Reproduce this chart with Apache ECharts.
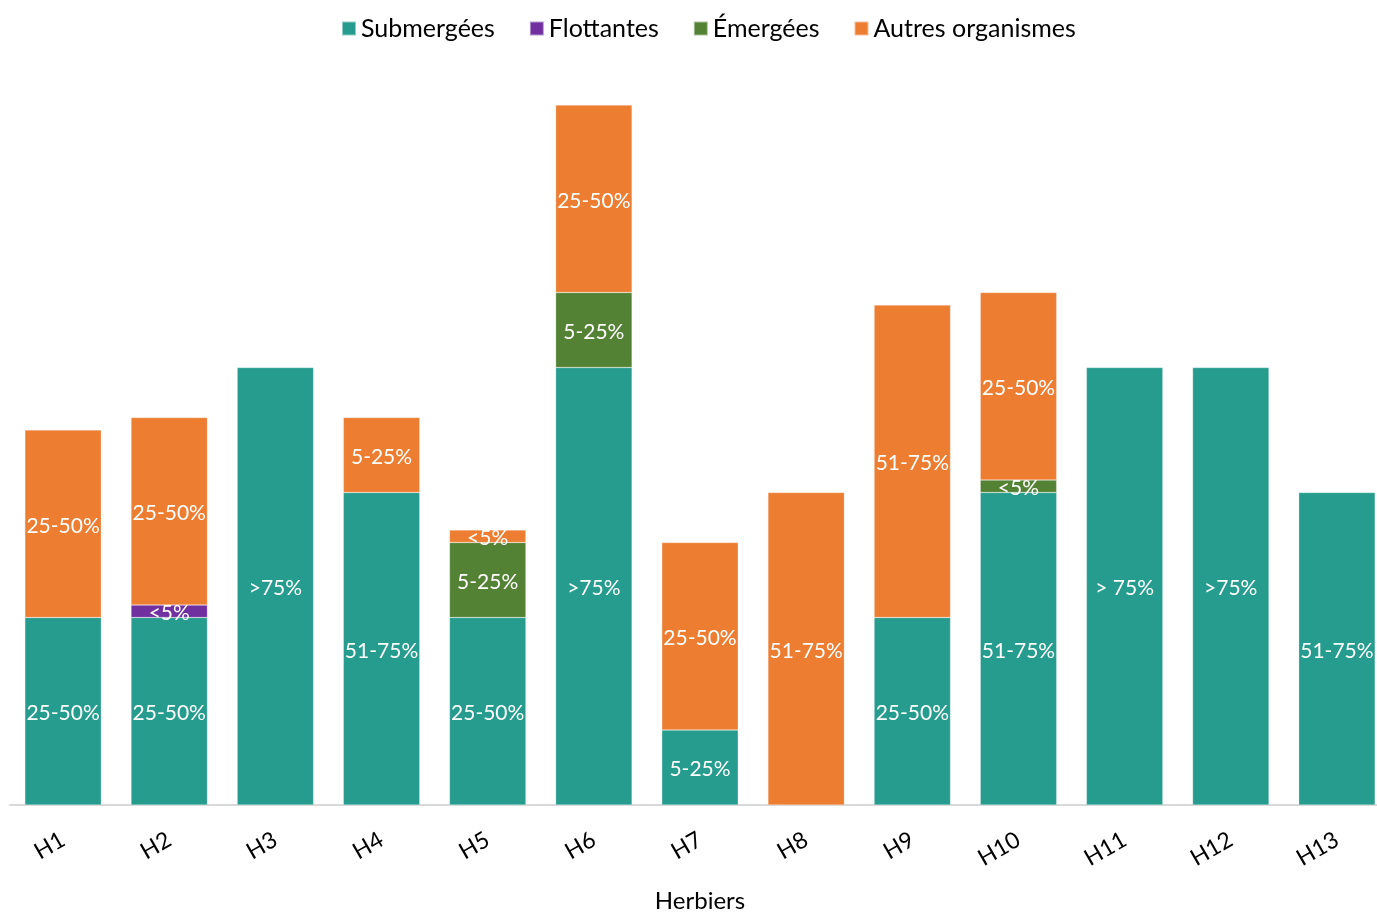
<!DOCTYPE html>
<html><head><meta charset="utf-8">
<script src="https://cdn.jsdelivr.net/npm/echarts@6/dist/echarts.min.js"></script>
<style>html,body{margin:0;padding:0;background:#fff}#c{width:1377px;height:914px}</style>
</head><body><div id="c"></div>
<script>
var categories = ['H1','H2','H3','H4','H5','H6','H7','H8','H9','H10','H11','H12','H13'];
// class midpoints: <5% = 2.5, 5-25% = 15, 25-50% = 37.5, 51-75% = 62.5, >75% = 87.5
var submergees = [37.5, 37.5, 87.5, 62.5, 37.5, 87.5, 15, null, 37.5, 62.5, 87.5, 87.5, 62.5];
var submergeesLabels = ['25-50%','25-50%','>75%','51-75%','25-50%','>75%','5-25%','','25-50%','51-75%','> 75%','>75%','51-75%'];
var flottantes = [null, 2.5, null, null, null, null, null, null, null, null, null, null, null];
var flottantesLabels = ['','<5%','','','','','','','','','','',''];
var emergees = [null, null, null, null, 15, 15, null, null, null, 2.5, null, null, null];
var emergeesLabels = ['','','','','5-25%','5-25%','','','','<5%','','',''];
var autres = [37.5, 37.5, null, 15, 2.5, 37.5, 37.5, 62.5, 62.5, 37.5, null, null, null];
var autresLabels = ['25-50%','25-50%','','5-25%','<5%','25-50%','25-50%','51-75%','51-75%','25-50%','','',''];

var FONT = 'Lato';
function mk(name, data, labels, color){
  return {
    name: name, type: 'bar', stack: 'total', barCategoryGap: '28%',
    data: data,
    itemStyle: {color: color, borderColor: 'rgba(255,255,255,0.5)', borderWidth: 0.5},
    label: {show: true, position: 'inside', offset: [0, 2], color: '#fff', fontFamily: FONT, fontSize: 21,
      formatter: function(p){ return labels[p.dataIndex] || ''; }},
    emphasis: {disabled: true}
  };
}
var chart = echarts.init(document.getElementById('c'));
chart.setOption({
  animation: false,
  legend: {top: 11, left: 336, itemWidth: 14, itemHeight: 14, itemGap: 34,
    icon: 'rect', textStyle: {fontFamily: FONT, fontSize: 25, color: '#000'}},
  grid: {left: 10, top: 105, bottom: 109, width: 1380, containLabel: false, outerBoundsMode: 'none'},
  xAxis: {type: 'category', data: categories,
    axisLine: {lineStyle: {color: '#d9d9d9', width: 2}}, axisTick: {show: false},
    axisLabel: {rotate: 30, margin: 33, fontFamily: FONT, fontSize: 23, color: '#000'},
    name: 'Herbiers', nameLocation: 'middle', nameGap: 84,
    nameTextStyle: {fontFamily: FONT, fontSize: 24, color: '#000'}},
  yAxis: {type: 'value', min: 0, max: 140, show: false, splitLine: {show: false}},
  series: [
    mk('Submergées', submergees, submergeesLabels, '#259c8e'),
    mk('Flottantes', flottantes, flottantesLabels, '#7030a0'),
    mk('Émergées', emergees, emergeesLabels, '#548235'),
    mk('Autres organismes', autres, autresLabels, '#ed7d31')
  ]
});
</script></body></html>
